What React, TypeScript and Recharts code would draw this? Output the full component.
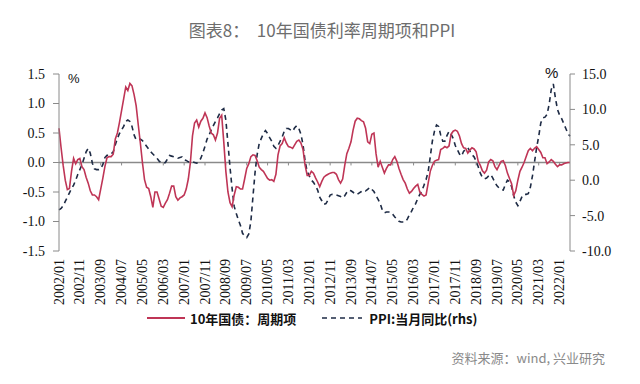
import { LineChart, Line, XAxis, YAxis, ReferenceLine } from "recharts";

// 10年国债利率周期项 (left axis, %), monthly from 2002/01
const rateCycle = [
  0.58, 0.25, -0.05, -0.3, -0.46, -0.44, -0.15, 0.07, -0.02, 0.05, 0.07, -0.07,
  -0.12, -0.25, -0.35, -0.48, -0.55, -0.55, -0.58, -0.63, -0.45, -0.27, -0.07, 0.08,
  0.1, 0.1, 0.14, 0.4, 0.5, 0.68, 0.88, 1.08, 1.28, 1.22, 1.34, 1.3,
  1.15, 0.96, 0.64, 0.33, 0.0, -0.29, -0.42, -0.44, -0.58, -0.76, -0.5, -0.5,
  -0.62, -0.74, -0.76, -0.69, -0.63, -0.52, -0.4, -0.4, -0.58, -0.64, -0.6, -0.58,
  -0.55, -0.45, -0.28, 0.0, 0.45, 0.67, 0.72, 0.6, 0.7, 0.75, 0.84, 0.76,
  0.62, 0.5, 0.47, 0.38, 0.5, 0.75, 0.8, 0.35, -0.15, -0.5, -0.68, -0.75,
  -0.55, -0.41, -0.42, -0.45, -0.45, -0.28, -0.1, -0.02, 0.1, 0.13, 0.12, 0.03,
  -0.08, -0.12, -0.15, -0.21, -0.27, -0.3, -0.29, -0.32, -0.2, 0.13, 0.28, 0.32,
  0.42, 0.33, 0.27, 0.26, 0.24, 0.3, 0.36, 0.38, 0.33, 0.22, -0.05, -0.22,
  -0.22, -0.15, -0.18, -0.26, -0.33, -0.41, -0.32, -0.25, -0.22, -0.2, -0.18, -0.17,
  -0.17, -0.2, -0.29, -0.35, -0.28, -0.05, 0.15, 0.24, 0.35, 0.55, 0.7, 0.75,
  0.74, 0.71, 0.69, 0.58, 0.35, 0.32, 0.48, 0.5, 0.15, -0.08, 0.02, -0.08,
  -0.18, -0.1, -0.04, -0.04, 0.05, 0.1, 0.02, -0.1, -0.2, -0.29, -0.35, -0.45,
  -0.52, -0.49, -0.44, -0.4, -0.37, -0.5, -0.54, -0.57, -0.55, -0.35, -0.15, -0.05,
  0.02, 0.04, 0.05, 0.22, 0.24, 0.27, 0.25, 0.28, 0.48, 0.53, 0.55, 0.53,
  0.45, 0.32, 0.25, 0.24, 0.16, 0.21, 0.25, 0.23, 0.18, 0.02, -0.05, -0.14,
  -0.18, -0.13, 0.01, 0.05, 0.03, -0.07, -0.12, -0.05, 0.02, 0.03, -0.05, -0.18,
  -0.27, -0.36, -0.56, -0.48, -0.3, -0.15, -0.08, 0.0, 0.1, 0.2, 0.24, 0.2,
  0.24, 0.27, 0.22, 0.17, 0.08, 0.08, -0.02, 0.01, 0.05, 0.02, -0.03, -0.07,
  -0.04, -0.04, -0.02, -0.01, 0.0, 0.0,
];

// PPI 当月同比 (right axis, %)
const ppiYoy = [
  -4.2, -4.0, -3.6, -3.0, -2.4, -1.8, -1.2, -0.7, 0.0, 0.8, 1.5, 2.2,
  3.1, 4.0, 4.5, 3.8, 2.4, 1.6, 1.5, 1.5, 1.6, 2.2, 3.2, 3.5,
  3.5, 3.7, 4.0, 5.0, 5.9, 6.6, 7.1, 7.6, 8.3, 8.5, 8.3, 7.6,
  6.4, 5.7, 5.7, 5.8, 5.6, 5.2, 4.8, 4.4, 4.0, 3.7, 3.4, 3.1,
  2.7, 2.5, 2.4, 2.5, 3.0, 3.5, 3.4, 3.3, 3.2, 3.1, 3.2, 3.3,
  2.9, 2.8, 2.6, 2.5, 2.6, 2.5, 2.4, 2.6, 3.1, 3.9, 4.8, 5.8,
  6.4, 7.1, 7.7, 8.3, 8.8, 9.4, 9.9, 10.1, 8.5, 5.2, 1.8, -1.2,
  -3.7, -4.7, -5.6, -6.4, -7.5, -7.9, -8.1, -7.6, -5.8, -2.3, 1.1, 3.6,
  5.2, 5.9, 6.6, 7.0, 6.6, 6.0, 5.5, 4.8, 4.5, 4.9, 5.5, 6.1,
  6.9, 7.3, 7.3, 7.1, 6.9, 7.4, 7.7, 7.3, 6.5, 5.0, 2.7, 1.2,
  0.6, 0.0, -0.3, -0.8, -1.4, -2.4, -2.9, -3.4, -3.3, -2.8, -2.1, -2.0,
  -2.0, -2.1, -2.2, -2.3, -2.5, -2.2, -1.7, -1.4, -1.5, -1.7, -2.0, -2.0,
  -1.8, -1.6, -1.4, -1.5, -1.3, -1.0, -1.3, -1.6, -2.2, -2.7, -3.3, -4.2,
  -4.6, -4.5, -4.5, -4.5, -4.8, -5.2, -5.5, -5.8, -5.9, -5.9, -5.9, -5.5,
  -4.9, -4.4, -3.8, -3.3, -2.6, -2.0, -1.5, -0.7, 0.1, 1.2, 3.3, 5.5,
  6.9, 7.8, 7.6, 6.4, 5.5, 5.5, 6.3, 6.9, 6.5, 5.9, 4.9, 4.3,
  3.7, 3.4, 4.1, 4.3, 4.6, 4.1, 3.6, 3.3, 2.7, 1.9, 1.0, 0.4,
  0.2, 0.3, 0.6, 0.8, 0.3, -0.3, -0.8, -1.1, -1.3, -1.4, -0.6, 0.0,
  -0.2, -0.9, -2.2, -3.1, -3.6, -3.0, -2.3, -2.0, -2.0, -1.9, -1.0, 0.6,
  2.6, 4.6, 6.2, 8.1, 8.8, 8.9, 9.3, 10.7, 12.8, 13.6, 11.6, 10.0,
  9.2, 8.7, 8.0, 7.3, 6.6, 6.2,
];

const tickLabels = [
  "2002/01", "2002/11", "2003/09", "2004/07", "2005/05", "2006/03", "2007/01",
  "2007/11", "2008/09", "2009/07", "2010/05", "2011/03", "2012/01", "2012/11",
  "2013/09", "2014/07", "2015/05", "2016/03", "2017/01", "2017/11", "2018/09",
  "2019/07", "2020/05", "2021/03", "2022/01",
];

const leftTicks = [-1.5, -1.0, -0.5, 0.0, 0.5, 1.0, 1.5];
const rightTicks = [-10, -5, 0, 5, 10, 15];

const data = rateCycle.map((v, i) => ({
  month: `${2002 + Math.floor(i / 12)}/${String((i % 12) + 1).padStart(2, "0")}`,
  rate: v,
  ppi: ppiYoy[i],
}));

const RED = "#bf3556";
const NAVY = "#1e2b45";
const AXIS = "#8a8a8a";
const serif = "'Liberation Serif', 'Times New Roman', serif";
const cjk = "'Noto Sans CJK SC', 'Noto Sans', sans-serif";

const DateTick = ({ x, y, payload }: any) => (
  <text
    x={x}
    y={y}
    transform={`rotate(-90, ${x}, ${y})`}
    textAnchor="end"
    dominantBaseline="central"
    fontFamily={serif}
    fontSize={14}
    fill="#111"
  >
    {payload.value}
  </text>
);

export default function App() {
  return (
    <div
      style={{
        position: "absolute",
        left: 0,
        top: 0,
        width: 640,
        height: 384,
        background: "#fff",
        overflow: "hidden",
      }}
    >
      <div
        style={{
          position: "absolute",
          top: 18,
          left: 0,
          width: 644,
          textAlign: "center",
          fontFamily: cjk,
          fontSize: 17,
          color: "#6d6d6d",
          lineHeight: "24px",
        }}
      >
        图表8：&nbsp;&nbsp;10年国债利率周期项和PPI
      </div>

      <div style={{ position: "absolute", left: 0, top: 0 }}>
        <LineChart
          width={640}
          height={384}
          data={data}
          margin={{ top: 74, right: 20, bottom: 78, left: 19 }}
        >
          <XAxis
            dataKey="month"
            ticks={tickLabels}
            interval={0}
            axisLine={false}
            tickLine={false}
            tickSize={6}
            tickMargin={2}
            height={55}
            tick={<DateTick />}
          />
          <YAxis
            yAxisId="left"
            domain={[-1.5, 1.5]}
            ticks={leftTicks}
            width={40}
            tickFormatter={(v: number) => v.toFixed(1)}
            axisLine={{ stroke: AXIS }}
            tickLine={{ stroke: AXIS }}
            tickSize={6}
            tickMargin={8}
            tick={{ fontFamily: serif, fontSize: 14, fill: "#111" }}
          />
          <YAxis
            yAxisId="right"
            orientation="right"
            domain={[-10, 15]}
            ticks={rightTicks}
            width={50}
            tickFormatter={(v: number) => v.toFixed(1)}
            axisLine={{ stroke: AXIS }}
            tickLine={{ stroke: AXIS }}
            tickSize={5}
            tickMargin={7}
            tick={{ fontFamily: serif, fontSize: 14, fill: "#111" }}
          />
          <ReferenceLine yAxisId="left" y={0} stroke={AXIS} strokeWidth={1.5} />
          {tickLabels.map((m) => (
            <ReferenceLine
              key={m}
              yAxisId="left"
              segment={[
                { x: m, y: 0 },
                { x: m, y: -0.05 },
              ]}
              stroke={AXIS}
              strokeWidth={1}
            />
          ))}
          <Line
            yAxisId="right"
            type="linear"
            dataKey="ppi"
            stroke={NAVY}
            strokeWidth={1.6}
            strokeDasharray="5 4"
            dot={false}
            isAnimationActive={false}
          />
          <Line
            yAxisId="left"
            type="linear"
            dataKey="rate"
            stroke={RED}
            strokeWidth={1.6}
            dot={false}
            isAnimationActive={false}
          />
        </LineChart>
      </div>

      <div
        style={{
          position: "absolute",
          left: 68,
          top: 71,
          fontFamily: "'Liberation Sans', sans-serif",
          fontSize: 13,
          color: "#111",
        }}
      >
        %
      </div>
      <div
        style={{
          position: "absolute",
          left: 545,
          top: 64,
          fontFamily: "'Liberation Sans', sans-serif",
          fontSize: 15,
          color: "#111",
        }}
      >
        %
      </div>

      <div
        style={{
          position: "absolute",
          top: 308,
          left: 147,
          height: 20,
          display: "flex",
          alignItems: "center",
          fontFamily: cjk,
          fontSize: 13,
          fontWeight: 700,
          color: "#111",
          whiteSpace: "nowrap",
        }}
      >
        <svg width={40} height={4} style={{ marginRight: 3 }}>
          <line x1={0} y1={2} x2={38} y2={2} stroke={RED} strokeWidth={2} />
        </svg>
        <span>10年国债：周期项</span>
        <svg width={44} height={4} style={{ marginLeft: 26, marginRight: 3 }}>
          <line x1={0} y1={2} x2={40} y2={2} stroke={NAVY} strokeWidth={1.6} strokeDasharray="5 4" />
        </svg>
        <span>PPI:当月同比(rhs)</span>
      </div>

      <div
        style={{
          position: "absolute",
          top: 348,
          right: 35,
          fontFamily: cjk,
          fontSize: 13,
          color: "#8a8a8a",
          whiteSpace: "nowrap",
        }}
      >
        资料来源：wind, 兴业研究
      </div>
    </div>
  );
}
